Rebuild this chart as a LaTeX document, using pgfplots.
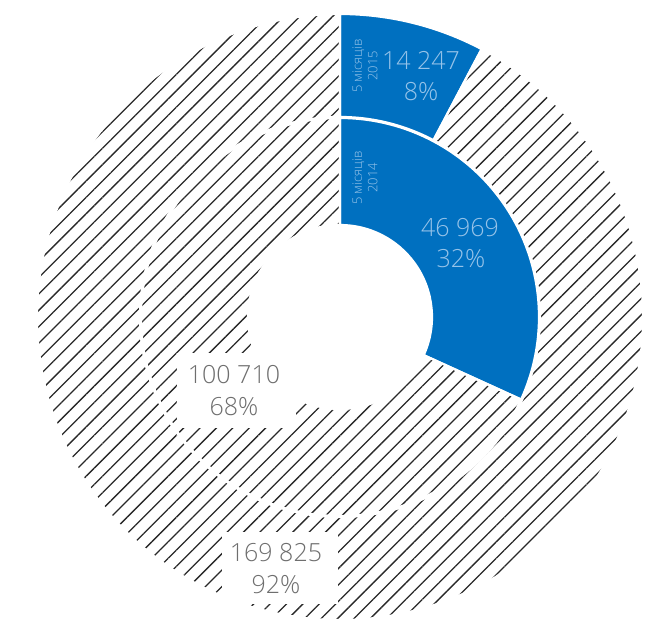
\documentclass[border=0pt]{standalone}
\usepackage{pgfplots}
\pgfplotsset{compat=1.18}
\usepackage{pgfplotstable}
\usetikzlibrary{patterns.meta}
\usepackage{fontspec}
\setmainfont{Open Sans Light}
\definecolor{cblue}{RGB}{0,112,192}
\definecolor{ltext}{RGB}{150,195,233}
\definecolor{gtext}{RGB}{110,110,110}
\definecolor{hatch}{RGB}{40,40,40}

\pgfplotstableread{
label value
2015 14247
rest 169825
}\outerring
\pgfplotstableread{
label value
2014 46969
rest 100710
}\innerring

\newcommand{\sector}[5]{%
  \path[#1] ({#2*cos(#4)},{#2*sin(#4)}) arc[start angle=#4,end angle=#5,radius=#2]
    -- ({#3*cos(#5)},{#3*sin(#5)}) arc[start angle=#5,end angle=#4,radius=#3] -- cycle;}

\begin{document}
\begin{tikzpicture}
\pgfplotstablegetelem{0}{value}\of\outerring \edef\oa{\pgfplotsretval}
\pgfplotstablegetelem{1}{value}\of\outerring \edef\ob{\pgfplotsretval}
\pgfplotstablegetelem{0}{value}\of\innerring \edef\ia{\pgfplotsretval}
\pgfplotstablegetelem{1}{value}\of\innerring \edef\ib{\pgfplotsretval}
\pgfkeys{/pgf/fpu=true,/pgf/fpu/output format=fixed}
\pgfmathsetmacro{\oang}{90-360*\oa/(\oa+\ob)}
\pgfmathsetmacro{\iang}{90-360*\ia/(\ia+\ib)}
\pgfkeys{/pgf/fpu=false}
\begin{axis}[x=1pt,y=1pt,xmin=-340,xmax=324,ymin=-311,ymax=317,
  hide axis,clip=false,scale only axis]
\coordinate (bl) at (-340,-311);
\coordinate (tr) at (324,317);
% outer ring
\sector{fill=cblue}{303}{200}{90}{\oang}
\sector{pattern={Lines[angle=45,distance=11.6pt,line width=1.3pt]},pattern color=hatch}{303}{200}{\oang}{-270}
% inner ring
\sector{fill=cblue}{199}{92}{90}{\iang}
\sector{pattern={Lines[angle=45,distance=11.6pt,line width=1.3pt]},pattern color=hatch}{199}{92}{\iang}{-270}
% white separators
\sector{draw=white,line width=2.2pt}{303}{200}{90}{\oang}
\sector{draw=white,line width=2.2pt}{303}{200}{\oang}{-270}
\sector{draw=white,line width=2.2pt}{199}{92}{90}{\iang}
\sector{draw=white,line width=2.2pt}{199}{92}{\iang}{-270}
% label boxes
\fill[white] (-163,-36) rectangle (-44,-111);
\fill[white] (-118,-215) rectangle (-2,-287);
% labels
\tikzset{big/.style={font=\fontsize{25}{28}\selectfont,inner sep=0pt,anchor=center}}
\node[big,text=ltext] at (81,257) {14 247};
\node[big,text=ltext] at (81,225) {8\%};
\node[big,text=ltext] at (120,89) {46 969};
\node[big,text=ltext] at (121,58) {32\%};
\node[big,text=gtext] at (-106,-58) {100 710};
\node[big,text=gtext] at (-106,-90) {68\%};
\node[big,text=gtext] at (-64,-236) {169 825};
\node[big,text=gtext] at (-64,-268) {92\%};
\node[rotate=90,align=center,text=ltext,font=\fontsize{13}{15.5}\selectfont,inner sep=0pt] at (25,251) {5 місяців\\2015};
\node[rotate=90,align=center,text=ltext,font=\fontsize{13}{15.5}\selectfont,inner sep=0pt] at (25,139) {5 місяців\\2014};
\end{axis}
\pgfresetboundingbox
\path (bl) rectangle (tr);
\end{tikzpicture}
\end{document}
